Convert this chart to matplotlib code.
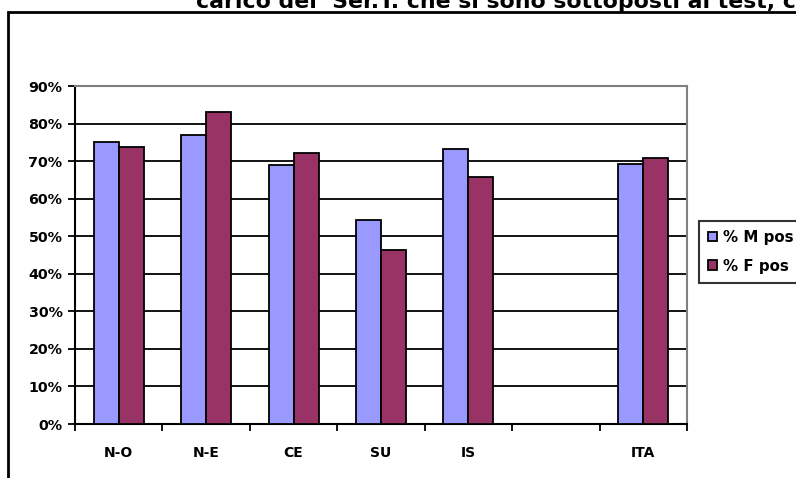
import numpy as np
import matplotlib
matplotlib.use("Agg")
import matplotlib.pyplot as plt
from matplotlib.patches import Rectangle, Patch
from matplotlib.ticker import FixedLocator, PercentFormatter

categories = ["N-O", "N-E", "CE", "SU", "IS", "", "ITA"]
m_pos = [75.0, 77.0, 69.0, 54.2, 73.3, np.nan, 69.1]
f_pos = [73.8, 83.2, 72.2, 46.2, 65.9, np.nan, 70.7]
series_names = ["% M pos", "% F pos"]
title = "carico dei  Ser.T. che si sono sottoposti al test, c"

plt.rcParams['font.family'] = ['DejaVu Sans']
plt.rcParams['font.weight'] = 'bold'

W, H = 796, 478
fig = plt.figure(figsize=(W / 100, H / 100), dpi=100)
fig.patch.set_facecolor("white")

# outer chart frame
fig.patches.append(Rectangle((8 / W, -0.1), 1.2, (H - 12) / H + 0.1, transform=fig.transFigure,
                             fill=False, edgecolor="black", linewidth=2.0, zorder=0))

ax = fig.add_axes([75 / W, 1 - 424 / H, 612 / W, 338 / H])
x = np.arange(len(categories))
bw = 0.286
ax.bar(x - bw / 2, m_pos, bw, color="#9999FF", edgecolor="black", linewidth=1.3, zorder=3)
ax.bar(x + bw / 2, f_pos, bw, color="#993366", edgecolor="black", linewidth=1.3, zorder=3)

ax.set_xlim(-0.5, len(categories) - 0.5)
ax.set_ylim(0, 90)
ax.set_yticks(np.arange(0, 91, 10))
ax.yaxis.set_major_formatter(PercentFormatter(decimals=0))
ax.yaxis.grid(True, color="black", linewidth=1.3, zorder=1)
ax.set_axisbelow(True)

ax.set_xticks(x)
ax.set_xticklabels(categories)
ax.xaxis.set_minor_locator(FixedLocator(np.arange(-0.5, len(categories), 1.0)))
ax.tick_params(axis='x', which='major', length=0, pad=16, labelsize=10)
ax.tick_params(axis='x', which='minor', length=5, width=1.3, direction='out')
ax.tick_params(axis='y', length=5, width=1.3, direction='out', pad=4, labelsize=10.3)

for s in ("top", "right"):
    ax.spines[s].set_color("#808080")
    ax.spines[s].set_linewidth(1.5)
for s in ("left", "bottom"):
    ax.spines[s].set_color("black")
    ax.spines[s].set_linewidth(1.5)

handles = [Patch(facecolor="#9999FF", edgecolor="black", linewidth=1.3),
           Patch(facecolor="#993366", edgecolor="black", linewidth=1.3)]
leg = fig.legend(handles, series_names, loc="upper left",
                 bbox_to_anchor=(699 / W, 1 - 221 / H), borderaxespad=0.0,
                 frameon=True, fancybox=False,
                 handlelength=0.6, handleheight=0.6, handletextpad=0.4,
                 labelspacing=0.9, borderpad=0.6, prop={'size': 10.8, 'weight': 'bold'})
leg.get_frame().set_edgecolor("black")
leg.get_frame().set_linewidth(1.5)

fig.text(196 / W, 1 - 8.5 / H, title, fontsize=15.8, fontweight="bold",
         ha="left", va="baseline")

fig.savefig("out.png", dpi=100)
